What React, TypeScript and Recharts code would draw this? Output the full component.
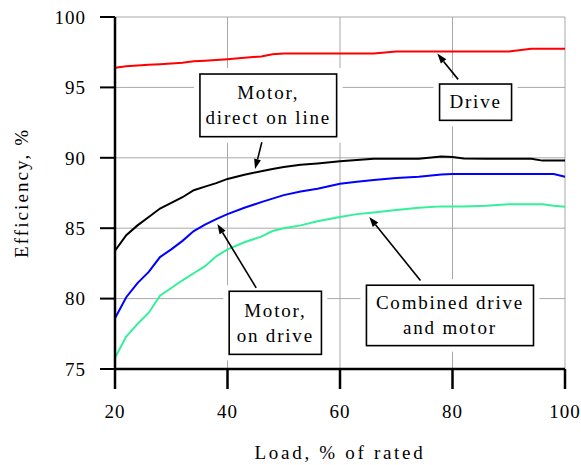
import React from 'react'
import {
  CartesianGrid,
  Line,
  LineChart,
  ReferenceArea,
  ReferenceLine,
  XAxis,
  YAxis,
} from 'recharts'

// load points, % of rated
const loads = [20, 22, 24, 26, 28, 30, 32, 34, 36, 38, 40, 43, 46, 48, 50, 53, 56, 60, 63, 66, 70, 74, 78, 80, 82, 86, 90, 94, 96, 98, 100]

const drive = [96.4, 96.5, 96.55, 96.6, 96.65, 96.7, 96.75, 96.85, 96.9, 96.95, 97.0, 97.1, 97.2, 97.35, 97.4, 97.4, 97.4, 97.4, 97.4, 97.4, 97.55, 97.55, 97.55, 97.55, 97.55, 97.55, 97.55, 97.75, 97.75, 97.75, 97.75]
const directOnLine = [83.4, 84.5, 85.2, 85.8, 86.4, 86.8, 87.2, 87.7, 87.95, 88.2, 88.5, 88.8, 89.05, 89.2, 89.35, 89.5, 89.6, 89.75, 89.85, 89.93, 89.93, 89.93, 90.1, 90.05, 89.95, 89.93, 89.93, 89.93, 89.8, 89.8, 89.8]
const motorOnDrive = [78.6, 80.1, 81.1, 81.9, 82.95, 83.5, 84.1, 84.8, 85.25, 85.65, 86.0, 86.45, 86.85, 87.1, 87.35, 87.6, 87.8, 88.15, 88.3, 88.43, 88.56, 88.66, 88.82, 88.85, 88.85, 88.85, 88.85, 88.85, 88.85, 88.85, 88.66]
const combined = [75.8, 77.3, 78.2, 79.0, 80.2, 80.75, 81.3, 81.8, 82.3, 83.0, 83.5, 84.0, 84.4, 84.8, 85.0, 85.2, 85.5, 85.8, 86.0, 86.12, 86.3, 86.45, 86.55, 86.55, 86.55, 86.6, 86.7, 86.7, 86.7, 86.6, 86.52]

const xTicks = [20, 40, 60, 80, 100]
const yTicks = [75, 80, 85, 90, 95, 100]

// callout boxes: text lines, box corners and arrow (from -> to) in data units
const callouts = [
  { lines: ['Motor,', 'direct on line'], x1: 35.1, x2: 59.4, y1: 91.5, y2: 95.95, from: [46.1, 91.1], to: [44.9, 89.2] },
  { lines: ['Drive'], x1: 77.7, x2: 90.5, y1: 92.66, y2: 95.24, from: [81.0, 95.57], to: [77.3, 97.4] },
  { lines: ['Motor,', 'on drive'], x1: 40.3, x2: 56.7, y1: 76.04, y2: 80.52, from: [45.1, 80.76], to: [38.2, 85.3] },
  { lines: ['Combined drive', 'and motor'], x1: 64.7, x2: 94.4, y1: 76.66, y2: 80.95, from: [74.3, 81.29], to: [65.2, 85.8] },
]

const data = loads.map((load, i) => ({
  load,
  drive: drive[i],
  dol: directOnLine[i],
  onDrive: motorOnDrive[i],
  combined: combined[i],
}))

const FONT = 'Liberation Serif'

function makeBox(lines: string[]) {
  return (props: any) => {
    const { x, y, width, height } = props
    const cx = x + width / 2
    const cy = y + height / 2
    const first = lines.length === 1 ? cy + 6 : cy - 6
    return (
      <g>
        <rect x={x - 6} y={y - 6} width={width + 12} height={height + 12} fill='#fff' />
        <rect x={x} y={y} width={width} height={height} fill='#fff' stroke='#000' strokeWidth={1.6} />
        {lines.map((t, i) => (
          <text
            key={i}
            x={cx}
            y={first + i * 25}
            textAnchor='middle'
            fontSize={19}
            letterSpacing={1.8}
            fill='#000'
          >
            {t}
          </text>
        ))}
      </g>
    )
  }
}

const Arrow = (props: any) => {
  const { x1, y1, x2, y2 } = props
  const dx = x2 - x1
  const dy = y2 - y1
  const len = Math.sqrt(dx * dx + dy * dy) || 1
  const ux = dx / len
  const uy = dy / len
  const bx = x2 - ux * 10
  const by = y2 - uy * 10
  const px = -uy * 3.5
  const py = ux * 3.5
  return (
    <g>
      <line x1={x1} y1={y1} x2={bx} y2={by} stroke='#000' strokeWidth={1.6} />
      <polygon points={`${x2},${y2} ${bx + px},${by + py} ${bx - px},${by - py}`} fill='#000' />
    </g>
  )
}

export default function App() {
  return (
    <div style={{ position: 'absolute', left: 0, top: 0, background: '#fff', fontFamily: FONT }}>
      <LineChart width={581} height={465} data={data} margin={{ top: 17, right: 16, left: 0, bottom: 0 }}>
        <CartesianGrid stroke='#a8a8a8' strokeWidth={1} />
        <XAxis
          dataKey='load'
          type='number'
          domain={[20, 100]}
          ticks={xTicks}
          height={96}
          tickSize={20}
          tickMargin={16}
          axisLine={{ stroke: '#000', strokeWidth: 2.5 }}
          tickLine={{ stroke: '#000', strokeWidth: 2.5 }}
          tick={{ fill: '#000', fontSize: 19, letterSpacing: 1 }}
          label={{
            content: (p: any) => (
              <text
                x={p.viewBox.x + p.viewBox.width / 2}
                y={p.viewBox.y + 90}
                textAnchor='middle'
                fontSize={19}
                letterSpacing={2.7}
                fill='#000'
              >
                Load, % of rated
              </text>
            ),
          }}
        />
        <YAxis
          type='number'
          domain={[75, 100]}
          ticks={yTicks}
          width={115}
          tickSize={15}
          tickMargin={14}
          axisLine={{ stroke: '#000', strokeWidth: 2.5 }}
          tickLine={{ stroke: '#000', strokeWidth: 2 }}
          tick={{ fill: '#000', fontSize: 19, letterSpacing: 1 }}
          label={{
            content: (p: any) => {
              const x = p.viewBox.x + 28
              const y = p.viewBox.y + p.viewBox.height / 2
              return (
                <text
                  x={x}
                  y={y}
                  transform={`rotate(-90 ${x} ${y})`}
                  textAnchor='middle'
                  fontSize={19}
                  letterSpacing={2.1}
                  fill='#000'
                >
                  Efficiency, %
                </text>
              )
            },
          }}
        />
        <Line dataKey='drive' stroke='#ff0000' strokeWidth={2} dot={false} isAnimationActive={false} />
        <Line dataKey='dol' stroke='#000000' strokeWidth={2} dot={false} isAnimationActive={false} />
        <Line dataKey='onDrive' stroke='#0000ff' strokeWidth={2} dot={false} isAnimationActive={false} />
        <Line dataKey='combined' stroke='#33f099' strokeWidth={2} dot={false} isAnimationActive={false} />
        {callouts.map((c, i) => (
          <ReferenceArea key={`b${i}`} x1={c.x1} x2={c.x2} y1={c.y1} y2={c.y2} shape={makeBox(c.lines)} />
        ))}
        {callouts.map((c, i) => (
          <ReferenceLine
            key={`a${i}`}
            segment={[
              { x: c.from[0], y: c.from[1] },
              { x: c.to[0], y: c.to[1] },
            ]}
            shape={Arrow}
          />
        ))}
      </LineChart>
    </div>
  )
}
